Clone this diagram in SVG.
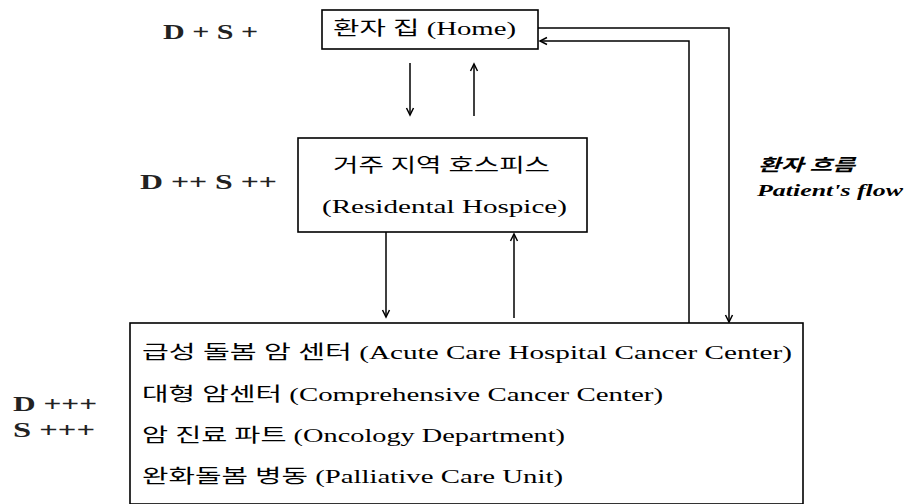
<svg xmlns="http://www.w3.org/2000/svg" width="908" height="504" viewBox="0 0 908 504">
<style>
.box{fill:#fff;stroke:#000;stroke-width:1.6}
.ln{fill:none;stroke:#000;stroke-width:1.5}
.t{font-family:"Liberation Serif","Noto Sans CJK KR",serif;fill:#000}
.lvl{font-family:"Liberation Serif","Noto Sans CJK KR",serif;font-weight:bold;fill:#222;font-size:21px}
.flow{font-family:"Liberation Serif","Noto Sans CJK KR",serif;font-weight:bold;font-style:italic;fill:#000;font-size:17px}
</style>
<defs>
<marker id="ah" markerUnits="userSpaceOnUse" markerWidth="12" markerHeight="12" viewBox="0 0 12 12" refX="10" refY="6" orient="auto">
<path d="M3,2.5 L10,6 L3,9.5" fill="none" stroke="#000" stroke-width="1.5"/>
</marker>
</defs>
<rect width="908" height="504" fill="#fff"/>
<g id="connectors">
<line class="ln" x1="410" y1="63" x2="410" y2="115" marker-end="url(#ah)"/>
<line class="ln" x1="474" y1="116" x2="474" y2="64" marker-end="url(#ah)"/>
<line class="ln" x1="386" y1="232" x2="386" y2="317" marker-end="url(#ah)"/>
<line class="ln" x1="514" y1="318" x2="514" y2="234" marker-end="url(#ah)"/>
<path class="ln" d="M538,28 H729 V322" marker-end="url(#ah)"/>
<path class="ln" d="M689,323 V41 H540" marker-end="url(#ah)"/>
</g>
<g id="home">
<rect class="box" x="322" y="10" width="216" height="39"/>
<text class="t" x="333" y="35" font-size="19" textLength="183" lengthAdjust="spacingAndGlyphs">환자 집 (Home)</text>
</g>
<g id="hospice">
<rect class="box" x="298" y="138" width="289" height="94"/>
<text class="t" x="333" y="172" font-size="19" textLength="217" lengthAdjust="spacingAndGlyphs">거주 지역 호스피스</text>
<text class="t" x="322" y="213" font-size="19" textLength="245" lengthAdjust="spacingAndGlyphs">(Residental  Hospice)</text>
</g>
<g id="hospital">
<rect class="box" x="130" y="323" width="673" height="181"/>
<text class="t" x="142" y="359" font-size="19" textLength="650" lengthAdjust="spacingAndGlyphs">급성 돌봄 암 센터 (Acute Care Hospital Cancer Center)</text>
<text class="t" x="142" y="401" font-size="19" textLength="521" lengthAdjust="spacingAndGlyphs">대형 암센터 (Comprehensive  Cancer Center)</text>
<text class="t" x="142" y="442" font-size="19" textLength="423" lengthAdjust="spacingAndGlyphs">암 진료 파트 (Oncology  Department)</text>
<text class="t" x="142" y="483" font-size="19" textLength="421" lengthAdjust="spacingAndGlyphs">완화돌봄 병동 (Palliative Care Unit)</text>
</g>
<g id="levels">
<text class="lvl" x="163" y="39" textLength="95" lengthAdjust="spacingAndGlyphs">D + S +</text>
<text class="lvl" x="140" y="189" textLength="137" lengthAdjust="spacingAndGlyphs">D ++  S ++</text>
<text class="lvl" x="13" y="411" textLength="84" lengthAdjust="spacingAndGlyphs">D +++</text>
<text class="lvl" x="13" y="437" textLength="82" lengthAdjust="spacingAndGlyphs">S +++</text>
</g>
<g id="flow-label">
<text class="flow" x="758" y="171" textLength="97" lengthAdjust="spacingAndGlyphs">환자 흐름</text>
<text class="flow" x="757" y="196" textLength="146" lengthAdjust="spacingAndGlyphs">Patient's flow</text>
</g>
</svg>
